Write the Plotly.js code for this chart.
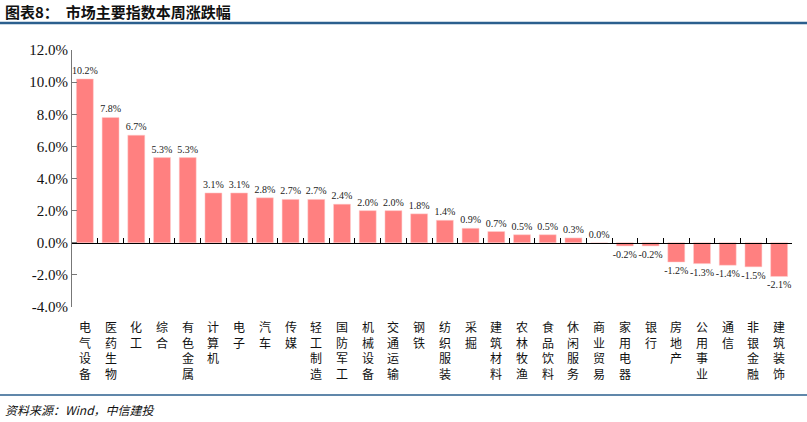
<!DOCTYPE html>
<html>
<head>
<meta charset="utf-8">
<script src="https://cdn.plot.ly/plotly-3.0.1.min.js"></script>
<style>
html,body{margin:0;padding:0;background:#fff;}
#chart{width:807px;height:422px;}
</style>
</head>
<body>
<div id="chart"></div>
<script>
const categories = ['电气设备','医药生物','化工','综合','有色金属','计算机','电子','汽车','传媒','轻工制造','国防军工','机械设备','交通运输','钢铁','纺织服装','采掘','建筑材料','农林牧渔','食品饮料','休闲服务','商业贸易','家用电器','银行','房地产','公用事业','通信','非银金融','建筑装饰'];
const changes = [10.2,7.8,6.7,5.3,5.3,3.1,3.1,2.8,2.7,2.7,2.4,2.0,2.0,1.8,1.4,0.9,0.7,0.5,0.5,0.3,0.0,-0.2,-0.2,-1.2,-1.3,-1.4,-1.5,-2.1];
const yTicks = [-4,-2,0,2,4,6,8,10,12];

const n = categories.length;

const traces = [
  {
    type: 'bar',
    x: categories,
    y: changes,
    marker: {color: '#FF8080', line: {color: '#FFD0D0', width: 0.5}},
    text: changes.map(v => v.toFixed(1) + '%'),
    textposition: 'outside',
    constraintext: 'none',
    textfont: {family: 'Liberation Serif', size: 10, color: '#222'},
    outsidetextfont: {family: 'Liberation Serif', size: 10, color: '#222'},
    cliponaxis: false,
    hoverinfo: 'x+y'
  },
  {
    type: 'scatter',
    mode: 'markers',
    x: categories,
    y: categories.map(() => 0),
    xaxis: 'x2',
    marker: {opacity: 0},
    hoverinfo: 'skip',
    showlegend: false
  }
];

const catLabels = categories.map(c => ({
  xref: 'x', yref: 'paper', x: c, y: -0.035, xanchor: 'center', yanchor: 'top',
  text: c.split('').join('<br>'), showarrow: false,
  font: {family: 'Noto Sans CJK SC', size: 12, color: '#111'}
}));

const layout = {
  width: 807,
  height: 422,
  margin: {l: 72, r: 15, t: 50, b: 115},
  paper_bgcolor: '#fff',
  plot_bgcolor: '#fff',
  showlegend: false,
  bargap: 0.34,
  xaxis: {
    type: 'category',
    range: [-0.5, n - 0.5],
    showticklabels: false,
    showline: false,
    ticks: '',
    showgrid: false,
    zeroline: false,
    automargin: false
  },
  xaxis2: {
    type: 'category',
    overlaying: 'x',
    anchor: 'free',
    position: 0.25,
    range: [-0.5, n - 0.5],
    showline: true,
    linecolor: '#000',
    linewidth: 1,
    ticks: 'inside',
    ticklen: 5,
    tickcolor: '#000',
    tickson: 'boundaries',
    showticklabels: false,
    showgrid: false,
    zeroline: false
  },
  yaxis: {
    range: [-4, 12],
    tickmode: 'array',
    tickvals: yTicks,
    ticktext: yTicks.map(v => v.toFixed(1) + '%'),
    showline: true,
    linecolor: '#777',
    linewidth: 1,
    ticks: 'inside',
    ticklen: 5,
    tickcolor: '#777',
    showgrid: false,
    zeroline: false,
    tickfont: {family: 'Liberation Serif', size: 15, color: '#111'},
    automargin: false
  },
  shapes: [
    {type: 'line', xref: 'paper', yref: 'paper', x0: -0.1, x1: 1.021, y0: 1.105, y1: 1.105,
     line: {color: '#2B5F8E', width: 2.5}},
    {type: 'line', xref: 'paper', yref: 'paper', x0: -0.1, x1: 1.021, y0: -0.342, y1: -0.342,
     line: {color: '#2B5F8E', width: 1.5}}
  ],
  annotations: [
    {xref: 'paper', yref: 'paper', x: -0.096, y: 1.148, xanchor: 'left', yanchor: 'middle',
     text: '<b>图表8：  市场主要指数本周涨跌幅</b>', showarrow: false,
     font: {family: 'Noto Sans CJK SC', size: 15, color: '#111'}},
    {xref: 'paper', yref: 'paper', x: -0.096, y: -0.40, xanchor: 'left', yanchor: 'middle',
     text: '<i>资料来源：Wind，中信建投</i>', showarrow: false,
     font: {family: 'Noto Sans CJK SC', size: 12, color: '#111'}}
  ].concat(catLabels)
};

Plotly.newPlot('chart', traces, layout, {displayModeBar: false, staticPlot: true});
</script>
</body>
</html>
